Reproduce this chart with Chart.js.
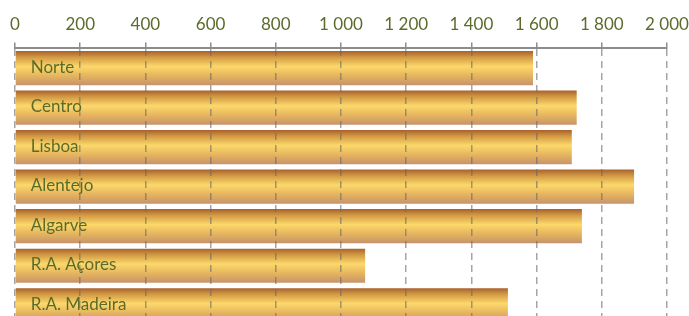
<!DOCTYPE html>
<html>
<head>
    <meta charset="utf-8">
    <script src="https://cdn.jsdelivr.net/npm/chart.js"></script>
    <title>Regiões</title>
    <style>
        html, body { margin: 0; padding: 0; overflow: hidden; background: #fff; }
        .chart-box { width: 689px; height: 330px; }
    </style>
</head>
<body>
    <div class="chart-box">
        <canvas id="chartRegioes"></canvas>
    </div>

    <script type="text/javascript">
        const regioes = ['Norte', 'Centro', 'Lisboa', 'Alentejo', 'Algarve', 'R.A. Açores', 'R.A. Madeira'];
        const valores = [1589, 1723, 1708, 1899, 1739, 1074, 1512];
        const ticksX = [0, 200, 400, 600, 800, 1000, 1200, 1400, 1600, 1800, 2000];

        const corTexto = '#5a6b2c';
        const barPct = 0.865;

        function formatarMilhares(v) {
            return String(v).replace(/\B(?=(\d{3})+(?!\d))/g, ' ');
        }

        // gradiente vertical por barra (castanho -> amarelo -> bege)
        function gradienteBarra(context) {
            const chart = context.chart;
            const yScale = chart.scales.y;
            if (!chart.chartArea || !yScale) return '#e8b85a';
            const centro = yScale.getPixelForValue(context.dataIndex);
            const banda = yScale.height / regioes.length;
            const h = banda * barPct;
            const g = chart.ctx.createLinearGradient(0, centro - h / 2, 0, centro + h / 2);
            g.addColorStop(0, '#a9612c');
            g.addColorStop(0.18, '#d29a44');
            g.addColorStop(0.45, '#fcd86b');
            g.addColorStop(0.72, '#e6b55e');
            g.addColorStop(1, '#c6936c');
            return g;
        }

        const rotulosDentro = {
            id: 'rotulosDentro',
            afterDatasetsDraw(chart) {
                const ctx = chart.ctx;
                const meta = chart.getDatasetMeta(0);
                ctx.save();
                ctx.font = '17px Lato, "Open Sans", sans-serif';
                ctx.fillStyle = corTexto;
                ctx.textBaseline = 'middle';
                ctx.textAlign = 'left';
                meta.data.forEach((bar, i) => {
                    ctx.fillText(regioes[i], bar.base + 15, bar.y - 1);
                });
                ctx.restore();
            }
        };

        const ctx = document.getElementById('chartRegioes').getContext('2d');
        new Chart(ctx, {
            type: 'bar',
            data: {
                labels: regioes,
                datasets: [{
                    data: valores,
                    backgroundColor: gradienteBarra,
                    borderWidth: 0,
                    barPercentage: barPct,
                    categoryPercentage: 1
                }]
            },
            options: {
                indexAxis: 'y',
                responsive: true,
                maintainAspectRatio: false,
                animation: false,
                layout: {
                    padding: { top: 6, left: 15, right: 22, bottom: 5 }
                },
                plugins: {
                    legend: { display: false },
                    tooltip: { enabled: false }
                },
                scales: {
                    x: {
                        position: 'top',
                        min: 0,
                        max: 2000,
                        afterBuildTicks: (axis) => {
                            axis.ticks = ticksX.map(v => ({ value: v }));
                        },
                        afterFit: (axis) => {
                            axis.paddingLeft = 0;
                            axis.paddingRight = 0;
                        },
                        ticks: {
                            color: corTexto,
                            font: { family: 'Lato, "Open Sans", sans-serif', size: 17 },
                            padding: 8,
                            maxRotation: 0,
                            callback: (v) => formatarMilhares(v)
                        },
                        grid: {
                            z: 1,
                            color: 'rgba(105, 105, 105, 0.6)',
                            lineWidth: 1.5,
                            tickColor: '#8c8c8c',
                            tickLength: 6,
                            tickWidth: 1.5
                        },
                        border: {
                            display: true,
                            z: 2,
                            color: '#8c8c8c',
                            width: 2,
                            dash: [7, 5]
                        }
                    },
                    y: {
                        display: false
                    }
                }
            },
            plugins: [rotulosDentro]
        });
    </script>
</body>
</html>
